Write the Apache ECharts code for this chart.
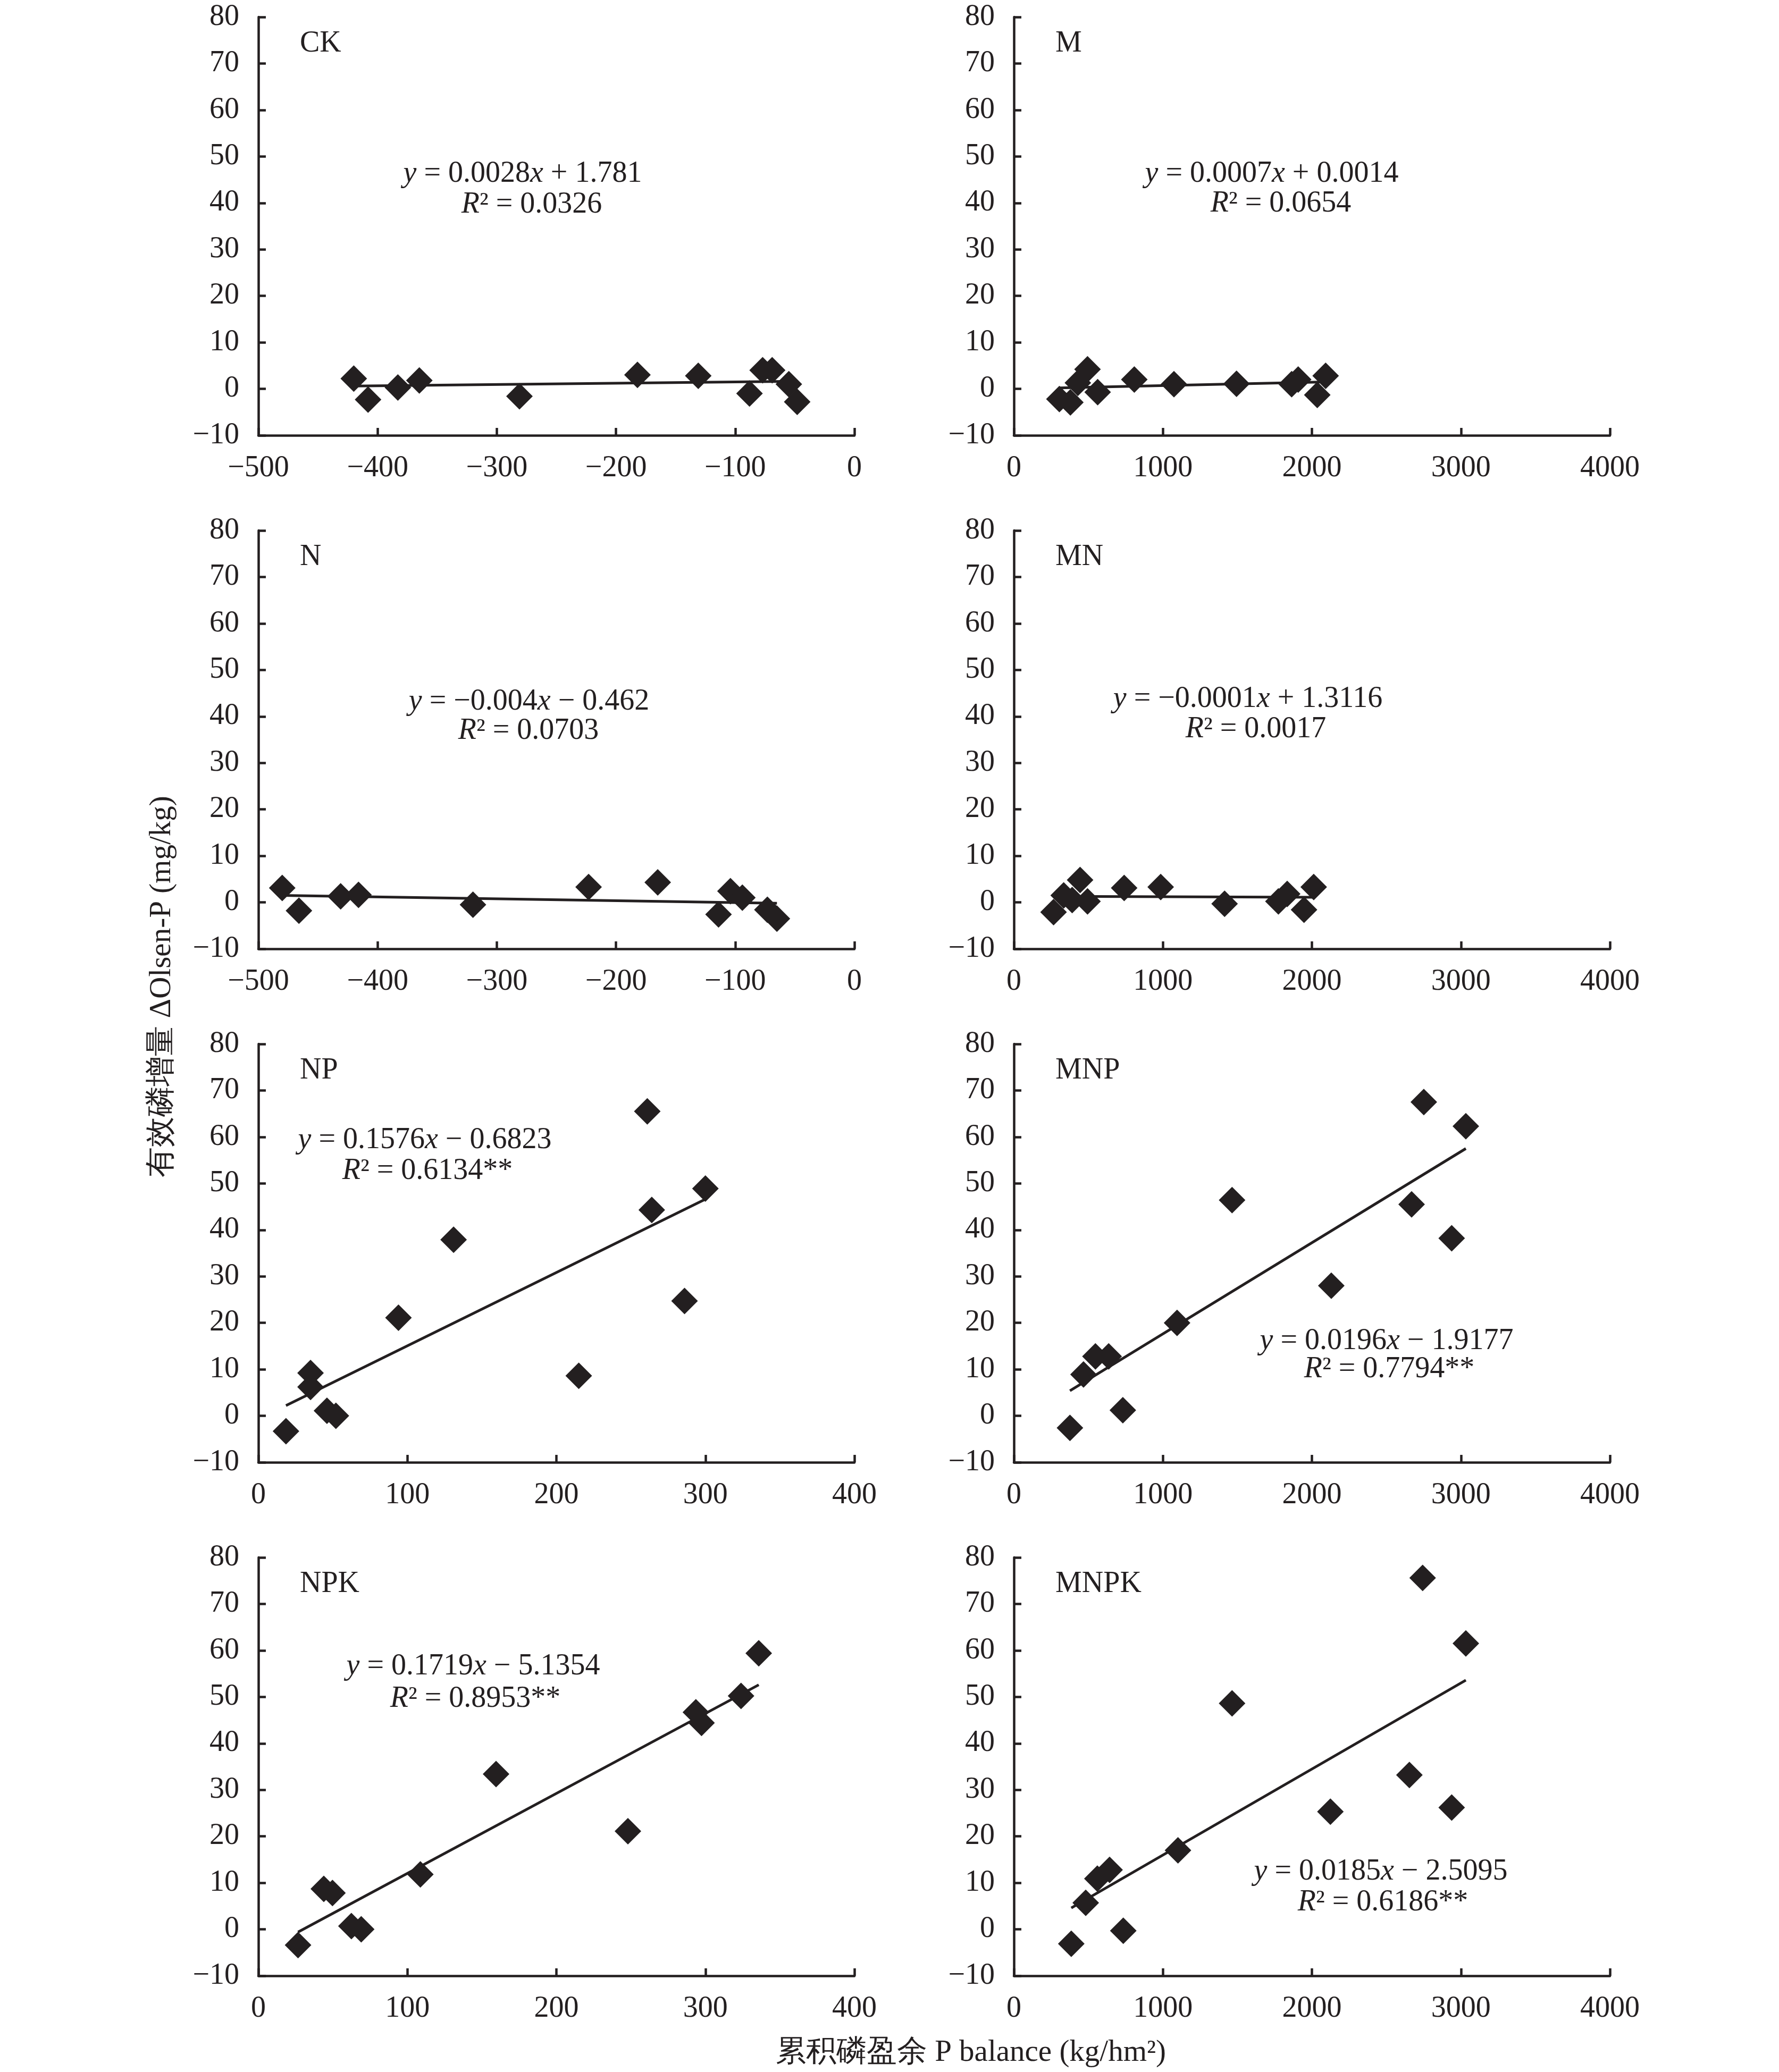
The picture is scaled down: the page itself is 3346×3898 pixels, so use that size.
<!DOCTYPE html>
<html><head><meta charset="utf-8">
<script src="https://cdn.jsdelivr.net/npm/echarts/dist/echarts.min.js"></script>
<style>html,body{margin:0;padding:0;background:#fff}#c{width:3346px;height:3898px}</style>
</head><body><div id="c"></div>
<script>
// ---- data ----
const panelNames = ['CK', 'M', 'N', 'MN', 'NP', 'MNP', 'NPK', 'MNPK'];

const ckX = [-420, -408, -383, -365, -281, -182, -131, -88, -77, -69, -55, -48];
const ckY = [2.2, -2.3, 0.3, 1.8, -1.6, 3.0, 2.8, -1.0, 4.0, 4.0, 1.0, -2.8];
const mX = [305, 379, 429, 494, 562, 808, 1074, 1494, 1864, 1908, 2036, 2092];
const mY = [-2.2, -2.9, 1.3, 4.2, -0.7, 2.0, 1.0, 1.1, 1.0, 2.0, -1.3, 2.8];
const nX = [-480, -466, -431, -416, -320, -223, -165, -114, -104, -94, -73, -65];
const nY = [3.1, -1.8, 1.3, 1.6, -0.5, 3.3, 4.3, -2.6, 2.4, 1.0, -1.6, -3.5];
const mnX = [266, 334, 391, 444, 494, 740, 985, 1414, 1775, 1834, 1947, 2012];
const mnY = [-2.1, 1.5, 0.5, 4.8, 0.2, 3.1, 3.3, -0.3, 0.2, 1.8, -1.6, 3.3];
const npX = [18.5, 35, 35, 46, 52, 94, 131, 215, 261, 264, 286, 300];
const npY = [-3.3, 9.2, 6.2, 1.1, 0.0, 21.1, 37.9, 8.6, 65.5, 44.3, 24.7, 48.9];
const mnpX = [376, 467, 547, 636, 731, 1095, 1464, 2130, 2669, 2751, 2938, 3033];
const mnpY = [-2.6, 8.9, 12.8, 12.8, 1.2, 20.0, 46.4, 28.0, 45.5, 67.5, 38.2, 62.3];
const npkX = [26.6, 43.9, 49.7, 62.4, 69, 108.7, 159.5, 248, 293.6, 297.4, 323.9, 335.8];
const npkY = [-3.4, 8.7, 7.8, 0.7, 0.0, 11.8, 33.4, 21.1, 46.7, 44.4, 50.2, 59.4];
const mnpkX = [385, 482, 560, 642, 734, 1101, 1464, 2124, 2654, 2743, 2938, 3033];
const mnpkY = [-3.1, 5.7, 10.9, 12.8, -0.3, 17.0, 48.6, 25.3, 33.2, 75.6, 26.2, 61.5];

// trend line end points [x, y]
const ckTrend = [[-420, 0.6], [-48, 1.65]];
const mTrend = [[305, 0.2], [2092, 1.5]];
const nTrend = [[-480, 1.5], [-65, -0.2]];
const mnTrend = [[266, 1.3], [2012, 1.1]];
const npTrend = [[18.5, 2.2], [300, 46.6]];
const mnpTrend = [[376, 5.4], [3033, 57.5]];
const npkTrend = [[26.6, -0.6], [335.8, 52.6]];
const mnpkTrend = [[385, 4.6], [3033, 53.6]];

// x-axis ranges [min, max, interval]
const xRanges = [[-500, 0, 100], [0, 4000, 1000], [-500, 0, 100], [0, 4000, 1000],
                 [0, 400, 100], [0, 4000, 1000], [0, 400, 100], [0, 4000, 1000]];
const yRange = [-10, 80, 10];

// equation texts
const eqLine1 = ['{i|y}{n| = 0.0028}{i|x}{n| + 1.781}', '{i|y}{n| = 0.0007}{i|x}{n| + 0.0014}',
  '{i|y}{n| = −0.004}{i|x}{n| − 0.462}', '{i|y}{n| = −0.0001}{i|x}{n| + 1.3116}',
  '{i|y}{n| = 0.1576}{i|x}{n| − 0.6823}', '{i|y}{n| = 0.0196}{i|x}{n| − 1.9177}',
  '{i|y}{n| = 0.1719}{i|x}{n| − 5.1354}', '{i|y}{n| = 0.0185}{i|x}{n| − 2.5095}'];
const eqLine2 = ['{i|R}{n|² = 0.0326}', '{i|R}{n|² = 0.0654}', '{i|R}{n|² = 0.0703}', '{i|R}{n|² = 0.0017}',
  '{i|R}{n|² = 0.6134**}', '{i|R}{n|² = 0.7794**}', '{i|R}{n|² = 0.8953**}', '{i|R}{n|² = 0.6186**}'];

const yTitle = '有效磷增量 ΔOlsen-P (mg/kg)';
const xTitle = '累积磷盈余 P balance (kg/hm²)';

// ---- layout ----
const FONT = 'Liberation Serif';
const INK = '#231f20';
const FS = 56;
const colLeft = [486, 1907];
const rowTop = [32, 998, 1964, 2930];
const gW = 1121, gH = 787;
// equation line centers [x1, y1, x2, y2]
const eqPos = [[983, 327, 1000, 385], [2392, 327, 2409, 383], [995, 1320, 994, 1375], [2347, 1315, 2362, 1372],
  [799, 2145, 804, 2203], [2608, 2523, 2613, 2576], [890, 3135, 894, 3196], [2597, 3521, 2601, 3579]];

const pointsX = [ckX, mX, nX, mnX, npX, mnpX, npkX, mnpkX];
const pointsY = [ckY, mY, nY, mnY, npY, mnpY, npkY, mnpkY];
const trends = [ckTrend, mTrend, nTrend, mnTrend, npTrend, mnpTrend, npkTrend, mnpkTrend];

const fmt = v => String(v).replace('-', '−');
const grid = [], xAxis = [], yAxis = [], series = [], graphic = [];
const rich = {
  n: {fontFamily: FONT, fontSize: FS, fill: INK, color: INK},
  i: {fontFamily: FONT, fontSize: FS, fontStyle: 'italic', fill: INK, color: INK}
};
panelNames.forEach((name, k) => {
  const c = k % 2, r = Math.floor(k / 2);
  grid.push({left: colLeft[c], top: rowTop[r], width: gW, height: gH, containLabel: false});
  const [xmin, xmax, xint] = xRanges[k];
  xAxis.push({
    gridIndex: k, type: 'value', min: xmin, max: xmax, interval: xint,
    axisLine: {onZero: false, lineStyle: {color: INK, width: 4.5}},
    axisTick: {inside: true, length: 14, lineStyle: {color: INK, width: 4.5}},
    splitLine: {show: false},
    axisLabel: {fontFamily: FONT, fontSize: FS, color: INK, margin: 34, formatter: fmt, showMinLabel: true, showMaxLabel: true}
  });
  yAxis.push({
    gridIndex: k, type: 'value', min: yRange[0], max: yRange[1], interval: yRange[2],
    axisLine: {show: true, onZero: false, lineStyle: {color: INK, width: 4.5}},
    axisTick: {show: true, inside: true, length: 14, lineStyle: {color: INK, width: 4.5}},
    splitLine: {show: false},
    axisLabel: {fontFamily: FONT, fontSize: FS, color: INK, margin: 36, formatter: fmt, showMinLabel: true, showMaxLabel: true}
  });
  series.push({
    type: 'line', xAxisIndex: k, yAxisIndex: k, data: trends[k], symbol: 'none',
    lineStyle: {color: INK, width: 5}, silent: true, z: 2
  });
  series.push({
    type: 'scatter', xAxisIndex: k, yAxisIndex: k,
    data: pointsX[k].map((x, j) => [x, pointsY[k][j]]),
    symbol: 'diamond', symbolSize: 50, itemStyle: {color: INK, opacity: 1}, silent: true, z: 3
  });
  graphic.push({
    type: 'text', x: colLeft[c] + 78, y: rowTop[r] + 50,
    style: {text: name, fontFamily: FONT, fontSize: FS, fill: INK, align: 'left', verticalAlign: 'middle'}
  });
  const p = eqPos[k];
  graphic.push({
    type: 'text', x: p[0], y: p[1],
    style: {text: eqLine1[k], rich, fontFamily: FONT, fontSize: FS, fill: INK, align: 'center', verticalAlign: 'middle'}
  });
  graphic.push({
    type: 'text', x: p[2], y: p[3],
    style: {text: eqLine2[k], rich, fontFamily: FONT, fontSize: FS, fill: INK, align: 'center', verticalAlign: 'middle'}
  });
});
graphic.push({
  type: 'text', x: 305, y: 1856, rotation: Math.PI / 2,
  style: {text: yTitle, fontFamily: FONT, fontSize: 57, fill: INK, align: 'center', verticalAlign: 'middle'}
});
graphic.push({
  type: 'text', x: 1826, y: 3862,
  style: {text: xTitle, fontFamily: FONT, fontSize: 57, fill: INK, align: 'center', verticalAlign: 'middle'}
});

const chart = echarts.init(document.getElementById('c'), null, {renderer: 'canvas'});
chart.setOption({
  backgroundColor: '#ffffff', animation: false,
  grid, xAxis, yAxis, series, graphic
});
</script></body></html>
